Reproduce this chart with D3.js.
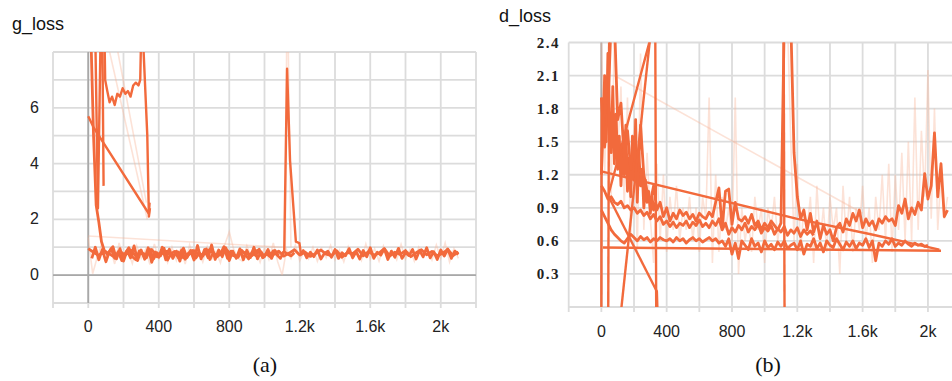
<!DOCTYPE html>
<html>
<head>
<meta charset="utf-8">
<script src="https://cdn.jsdelivr.net/npm/d3@7"></script>
<style>
  body { margin: 0; background: #fff; }
  svg { display: block; }
</style>
</head>
<body>
<div id="chart"></div>
<script>
// ---- g_loss (panel a) ----
const gXTicks = [0, 400, 800, 1200, 1600, 2000];
const gXLabels = ["0", "400", "800", "1.2k", "1.6k", "2k"];
const gYTicks = [0, 2, 4, 6];

// long run, every 30 steps
const gRun1Steps = d3.range(0, 2101, 30);
const gRun1Vals = [
  0.95,0.82,0.70,0.88,0.76,0.64,0.85,0.72,0.90,0.68,
  0.80,0.74,0.92,0.66,0.78,0.86,0.70,0.83,0.62,0.79,
  0.88,0.71,0.76,0.93,0.69,0.81,0.95,0.73,0.66,0.84,
  0.77,0.70,0.89,0.64,0.80,0.74,0.86,0.68,0.79,0.91,
  0.72,0.83,0.67,0.78,0.90,0.75,0.70,0.87,0.64,0.81,
  0.76,0.93,0.69,0.84,0.72,0.79,0.95,0.68,0.82,0.74,
  0.88,0.66,0.80,0.91,0.73,0.85,0.69,0.78,0.92,0.70,0.83
];
// run that starts off the top and settles into the band
const gRun2Steps = [0, 15, 30, 45, 60, 75, 90].concat(d3.range(110, 1171, 20));
const gRun2Vals = [
  8.6, 8.6, 5.0, 2.5, 1.9, 1.2, 0.9,
  0.72,0.95,0.60,0.84,0.52,0.78,0.98,0.66,0.55,0.87,
  0.74,0.62,0.92,0.58,0.80,0.69,0.96,0.54,0.77,0.85,
  0.63,0.90,0.57,0.73,0.88,0.61,0.79,0.68,0.94,0.56,
  0.82,0.65,0.76,1.02,0.60,0.86,0.71,0.64,0.89,0.75,
  0.58,0.83,0.70,0.93,0.62,0.78,0.67,0.87,0.73,0.60,
  0.84,0.76,0.69,0.80
];
const gRun3Steps = [0, 30, 344, 348];
const gRun3Vals = [5.7, 5.3, 2.2, 2.6];
const gRun4Steps = [92, 96, 108, 121, 135, 150, 165, 180, 195, 210, 225, 240, 255, 270, 285, 295, 300, 310, 335, 344, 350];
const gRun4Vals = [8.6, 7.0, 6.6, 6.2, 6.4, 6.1, 6.5, 6.4, 6.7, 6.5, 6.6, 6.4, 6.8, 6.9, 6.8, 7.0, 8.6, 8.6, 5.0, 2.1, 2.4];
const gRun5Steps = [40, 55, 70, 80, 87];
const gRun5Vals = [8.6, 2.4, 8.6, 8.6, 3.2];
const gRun6Steps = d3.range(20, 1081, 20);
const gRun6Vals = [
  0.60,1.00,0.55,0.92,0.48,0.85,1.02,0.58,0.95,0.50,
  0.88,0.62,1.05,0.52,0.90,0.57,0.98,0.46,0.83,0.64,
  1.00,0.55,0.93,0.60,0.86,0.50,0.97,0.63,0.88,0.54,
  1.06,0.58,0.92,0.62,1.08,0.56,0.90,0.66,0.98,0.52,
  0.86,0.60,0.94,0.55,0.89,0.63,1.00,0.58,0.84,0.66,
  0.92,0.60,0.88,0.70
];
const gRun7Steps = d3.range(1200, 2101, 20);
const gRun7Vals = [
  0.70,0.88,0.62,0.82,0.66,0.90,0.58,0.78,0.86,0.64,
  0.92,0.60,0.80,0.70,0.95,0.62,0.84,0.58,0.88,0.66,
  0.98,0.60,0.82,0.72,0.94,0.56,0.86,0.64,0.96,0.60,
  0.80,0.70,0.92,0.58,0.88,0.66,0.98,0.62,0.84,0.56,
  0.90,0.68,0.94,0.60,0.86,0.74
];
const gSpikeSteps = [1100, 1112, 1128, 1145, 1178, 1198, 1206, 1220];
const gSpikeVals = [0.78, 0.85, 7.4, 4.1, 1.2, 1.15, 0.8, 0.75];

// faint raw values
const gRawSteps = d3.range(0, 2101, 25);
const gRawVals = [
  1.35,0.05,0.62,1.10,0.48,0.95,0.40,1.15,0.55,0.88,
  0.42,1.05,0.60,0.92,0.38,1.12,0.58,0.85,0.45,1.00,
  0.52,0.96,0.40,1.08,0.62,0.90,0.47,1.02,0.57,0.84,
  0.44,1.10,1.55,0.93,0.60,0.50,1.05,0.63,0.88,0.46,
  0.98,0.56,1.15,0.48,0.00,0.92,0.60,1.08,0.52,0.86,
  0.58,1.00,0.50,0.94,0.62,1.06,0.55,0.90,0.48,1.02,
  0.60,0.88,0.53,1.12,0.57,0.95,0.50,1.04,0.62,0.86,
  0.55,1.10,0.58,0.92,0.50,1.00,0.63,0.88,0.54,1.08,
  0.60,1.15,0.47,0.95,0.60
];
const gFaintLineSteps = [0, 1100];
const gFaintLineVals = [1.4, 1.0];
const gFaintSpikeSteps = [1118, 1126, 1134, 1150];
const gFaintSpikeVals = [0.8, 8.6, 8.6, 1.0];
const gFaintDiag1Steps = [100, 335];
const gFaintDiag1Vals = [8.6, 2.0];
const gFaintDiag2Steps = [150, 330];
const gFaintDiag2Vals = [8.6, 2.6];

// ---- d_loss (panel b) ----
const dXTicks = [0, 400, 800, 1200, 1600, 2000];
const dXLabels = ["0", "400", "800", "1.2k", "1.6k", "2k"];
const dYTicks = [0.3, 0.6, 0.9, 1.2, 1.5, 1.8, 2.1, 2.4];

const dRun1Steps = d3.range(0, 2121, 20);
const dRun1Vals = [
  1.90,1.45,1.80,2.60,2.60,1.70,1.85,1.35,1.60,1.25,
  1.50,1.10,1.65,1.20,1.05,0.95,1.10,0.88,0.95,0.82,
  0.90,0.78,0.85,0.80,0.88,0.83,0.86,0.80,0.84,0.78,
  0.85,0.82,0.80,0.86,0.82,0.95,1.08,0.72,1.05,1.07,
  0.75,0.95,0.80,0.78,0.82,0.76,0.84,0.74,0.78,0.70,
  0.76,0.72,0.78,0.74,0.70,0.76,2.60,2.60,2.60,1.40,
  1.00,0.80,0.88,0.70,0.85,0.68,0.78,0.62,0.74,0.66,
  0.70,0.60,0.72,0.76,0.68,0.80,0.74,0.85,0.78,0.88,
  0.72,0.80,0.74,0.78,0.70,0.80,0.76,0.82,0.78,0.80,
  0.74,0.92,0.85,0.98,0.80,0.90,0.84,0.95,0.88,1.21,
  0.98,1.10,1.58,1.00,1.30,0.82,0.88
];
const dRun2Steps = d3.range(0, 1301, 20);
const dRun2Vals = [
  1.10,1.05,0.98,1.00,0.95,0.93,0.96,0.90,0.92,0.88,
  0.90,0.85,0.88,0.83,0.86,0.80,0.84,0.78,0.82,0.75,
  0.78,0.73,0.77,0.72,0.76,0.74,0.78,0.72,0.77,0.74,
  0.79,0.73,0.76,0.72,0.78,0.74,0.80,0.70,0.76,0.66,
  0.72,0.68,0.74,0.70,0.76,0.68,0.73,0.70,0.75,0.67,
  0.72,0.69,0.74,0.66,0.71,0.68,0.73,0.65,0.70,0.67,
  0.72,0.64,0.70,0.66,0.69,0.65
];
const dRun3Steps = d3.range(0, 2001, 20);
const dRun3Vals = [
  0.88,0.82,0.76,0.70,0.66,0.63,0.60,0.58,0.62,0.66,
  0.63,0.60,0.64,0.61,0.63,0.59,0.62,0.60,0.63,0.61,
  0.60,0.62,0.59,0.63,0.60,0.62,0.58,0.61,0.63,0.60,
  0.62,0.59,0.61,0.63,0.60,0.62,0.58,0.60,0.55,0.62,
  0.48,0.58,0.44,0.60,0.56,0.52,0.62,0.55,0.58,0.50,
  0.60,0.54,0.57,0.52,0.59,0.55,0.60,0.53,0.56,0.58,
  0.52,0.60,0.48,0.57,0.55,0.62,0.53,0.58,0.50,0.60,
  0.56,0.54,0.62,0.57,0.52,0.59,0.55,0.60,0.53,0.58,
  0.56,0.62,0.54,0.60,0.42,0.58,0.55,0.60,0.57,0.62,
  0.55,0.58,0.56,0.60,0.57,0.55,0.58,0.56,0.57,0.55,0.56
];
// dense early oscillation
const dRun4Steps = d3.range(0, 331, 10);
const dRun4Vals = [
  1.20,1.60,2.10,1.50,2.30,1.70,1.40,2.00,1.30,1.75,
  1.25,1.55,1.10,1.45,1.20,1.65,1.05,1.35,1.00,1.55,
  1.15,1.70,0.95,1.40,1.10,1.25,0.90,1.15,0.95,1.05,
  0.85,1.00,0.88,0.95
];
const dFlatSteps = [10, 2080];
const dFlatVals = [0.54, 0.51];
const dDiagSteps = [0, 1200, 1650, 2070];
const dDiagVals = [1.23, 0.80, 0.66, 0.52];
const dVert0Steps = [0, 2];
const dVert0Vals = [-0.1, 1.9];
const dVert45Steps = [42, 48];
const dVert45Vals = [-0.1, 2.6];
const dUpSteps = [116, 310];
const dUpVals = [-0.1, 2.6];
const dDownSteps = [40, 330, 336, 340, 345];
const dDownVals = [1.0, 2.6, -0.1, 0.14, -0.1];
const dCrossSteps = [45, 340];
const dCrossVals = [1.0, 0.14];
const dDropSteps = [1116, 1122];
const dDropVals = [2.6, -0.1];

const dRawSteps = d3.range(0, 2121, 20);
const dRawVals = [
  2.4,1.2,2.3,1.0,2.5,1.4,2.0,0.9,1.9,0.6,1.7,0.5,2.3,0.7,1.4,0.8,
  0.4,1.3,0.6,1.2,0.5,1.0,0.7,1.1,0.6,0.9,0.7,1.0,0.6,0.9,0.5,1.0,0.8,1.9,0.4,1.2,
  0.5,1.0,0.7,0.9,0.6,1.9,0.3,0.9,0.6,0.8,0.5,1.0,0.7,0.9,0.4,0.9,0.7,1.0,0.6,0.8,
  2.6,2.6,1.5,
  0.6,1.3,0.5,0.9,0.7,1.0,0.4,1.1,0.6,0.9,
  0.5,1.0,0.7,0.9,0.3,1.1,0.6,1.0,0.5,0.9,
  0.7,1.1,0.6,0.9,0.4,1.0,0.7,1.2,0.6,1.3,
  0.5,1.2,0.7,1.4,0.6,1.5,0.6,1.9,0.7,1.6,
  1.0,2.15,0.8,1.8,0.7,1.2,0.8,1.0
];
const dFaintDiagSteps = [80, 1600];
const dFaintDiagVals = [2.1, 0.85];

const solidColor = "#f26a3c";
const faintColor = "#f7b69c";

const svg = d3.select("#chart").append("svg")
  .attr("width", 952)
  .attr("height", 381);

function pairs(steps, vals) {
  return vals.map((v, i) => [steps[i], v]).filter((p) => p[0] !== undefined);
}

function drawPanel(opt) {
  const x = d3.scaleLinear().domain([-200, 2200]).range([opt.left, opt.right]);
  const y = d3.scaleLinear().domain(opt.yDomain).range([opt.bottom, opt.top]);
  const g = svg.append("g");

  g.append("clipPath").attr("id", opt.id + "-clip")
    .append("rect")
    .attr("x", opt.left).attr("y", opt.top)
    .attr("width", opt.right - opt.left).attr("height", opt.bottom - opt.top);

  // grid
  g.append("g").selectAll("line")
    .data(d3.range(-200, 2201, 200))
    .join("line")
    .attr("x1", (d) => x(d)).attr("x2", (d) => x(d))
    .attr("y1", opt.top).attr("y2", opt.bottom + 5)
    .attr("stroke", "#dcdcdc").attr("stroke-width", 1.8);
  g.append("g").selectAll("line")
    .data(opt.gridY)
    .join("line")
    .attr("x1", opt.left).attr("x2", opt.right)
    .attr("y1", (d) => y(d)).attr("y2", (d) => y(d))
    .attr("stroke", "#dcdcdc").attr("stroke-width", 1.8);

  // zero lines
  g.append("line")
    .attr("x1", x(0)).attr("x2", x(0))
    .attr("y1", opt.top).attr("y2", opt.bottom)
    .attr("stroke", "#a8a8a8").attr("stroke-width", 1.8);
  if (opt.yDomain[0] < 0) {
    g.append("line")
      .attr("x1", opt.left).attr("x2", opt.right)
      .attr("y1", y(0)).attr("y2", y(0))
      .attr("stroke", "#a8a8a8").attr("stroke-width", 1.8);
  }

  const line = d3.line().x((d) => x(d[0])).y((d) => y(d[1]));
  const plot = g.append("g").attr("clip-path", `url(#${opt.id}-clip)`);

  opt.faint.forEach((s) => {
    plot.append("path")
      .attr("d", line(s))
      .attr("fill", "none")
      .attr("stroke", faintColor)
      .attr("stroke-opacity", 0.4)
      .attr("stroke-width", 1.6);
  });
  opt.solid.forEach((s) => {
    plot.append("path")
      .attr("d", line(s))
      .attr("fill", "none")
      .attr("stroke", solidColor)
      .attr("stroke-width", s.length > 30 ? 2.8 : 2.4)
      .attr("stroke-linejoin", "round");
  });

  // x tick labels
  g.append("g").selectAll("text")
    .data(opt.xTicks)
    .join("text")
    .attr("x", (d) => x(d))
    .attr("y", opt.xLabelY)
    .attr("text-anchor", "middle")
    .attr("font-family", "Liberation Sans, Arial, sans-serif")
    .attr("font-size", 16)
    .attr("fill", "#222")
    .text((d, i) => opt.xLabels[i]);

  // y tick labels
  g.append("g").selectAll("text")
    .data(opt.yTicks)
    .join("text")
    .attr("x", opt.yLabelX)
    .attr("y", (d) => y(d) + 5)
    .attr("text-anchor", "end")
    .attr("font-family", opt.yFont)
    .attr("font-size", opt.yFontSize)
    .attr("font-weight", opt.yWeight)
    .attr("letter-spacing", opt.yLetterSpacing)
    .attr("fill", "#222")
    .text((d) => opt.yFormat(d));

  svg.append("text")
    .attr("x", opt.titleX).attr("y", opt.titleY)
    .attr("font-family", "Liberation Sans, Arial, sans-serif")
    .attr("font-size", 18)
    .attr("fill", "#111")
    .text(opt.title);

  svg.append("text")
    .attr("x", opt.capX).attr("y", 372)
    .attr("text-anchor", "middle")
    .attr("font-family", "Liberation Serif, Times New Roman, serif")
    .attr("font-size", 22)
    .attr("fill", "#111")
    .text(opt.caption);
}

drawPanel({
  id: "g",
  left: 53, right: 476, top: 52, bottom: 303,
  yDomain: [-1, 8],
  gridY: d3.range(-1, 9, 1),
  xTicks: gXTicks, xLabels: gXLabels, xLabelY: 332,
  yTicks: gYTicks, yLabelX: 39,
  yFont: "Liberation Sans, Arial, sans-serif", yFontSize: 16, yWeight: "normal", yLetterSpacing: 0,
  yFormat: (d) => String(d),
  title: "g_loss", titleX: 12, titleY: 30,
  caption: "(a)", capX: 265,
  faint: [
    pairs(gRawSteps, gRawVals),
    pairs(gFaintLineSteps, gFaintLineVals),
    pairs(gFaintSpikeSteps, gFaintSpikeVals),
    pairs(gFaintDiag1Steps, gFaintDiag1Vals),
    pairs(gFaintDiag2Steps, gFaintDiag2Vals)
  ],
  solid: [
    pairs(gRun1Steps, gRun1Vals),
    pairs(gRun2Steps, gRun2Vals),
    pairs(gRun6Steps, gRun6Vals),
    pairs(gRun7Steps, gRun7Vals),
    pairs(gRun3Steps, gRun3Vals),
    pairs(gRun4Steps, gRun4Vals),
    pairs(gRun5Steps, gRun5Vals),
    pairs(gSpikeSteps, gSpikeVals)
  ]
});

drawPanel({
  id: "d",
  left: 568.7, right: 960.6, top: 42.5, bottom: 307,
  yDomain: [0, 2.4],
  gridY: d3.range(0, 2.41, 0.3),
  xTicks: dXTicks, xLabels: dXLabels, xLabelY: 337,
  yTicks: dYTicks, yLabelX: 560,
  yFont: "Liberation Serif, Times New Roman, serif", yFontSize: 15, yWeight: "bold", yLetterSpacing: 1.5,
  yFormat: d3.format(".1f"),
  title: "d_loss", titleX: 499, titleY: 22,
  caption: "(b)", capX: 768,
  faint: [
    pairs(dRawSteps, dRawVals),
    pairs(dFaintDiagSteps, dFaintDiagVals)
  ],
  solid: [
    pairs(dFlatSteps, dFlatVals),
    pairs(dDiagSteps, dDiagVals),
    pairs(dRun3Steps, dRun3Vals),
    pairs(dRun2Steps, dRun2Vals),
    pairs(dRun4Steps, dRun4Vals),
    pairs(dRun1Steps, dRun1Vals),
    pairs(dVert0Steps, dVert0Vals),
    pairs(dVert45Steps, dVert45Vals),
    pairs(dUpSteps, dUpVals),
    pairs(dDownSteps, dDownVals),
    pairs(dCrossSteps, dCrossVals),
    pairs(dDropSteps, dDropVals)
  ]
});
</script>
</body>
</html>
